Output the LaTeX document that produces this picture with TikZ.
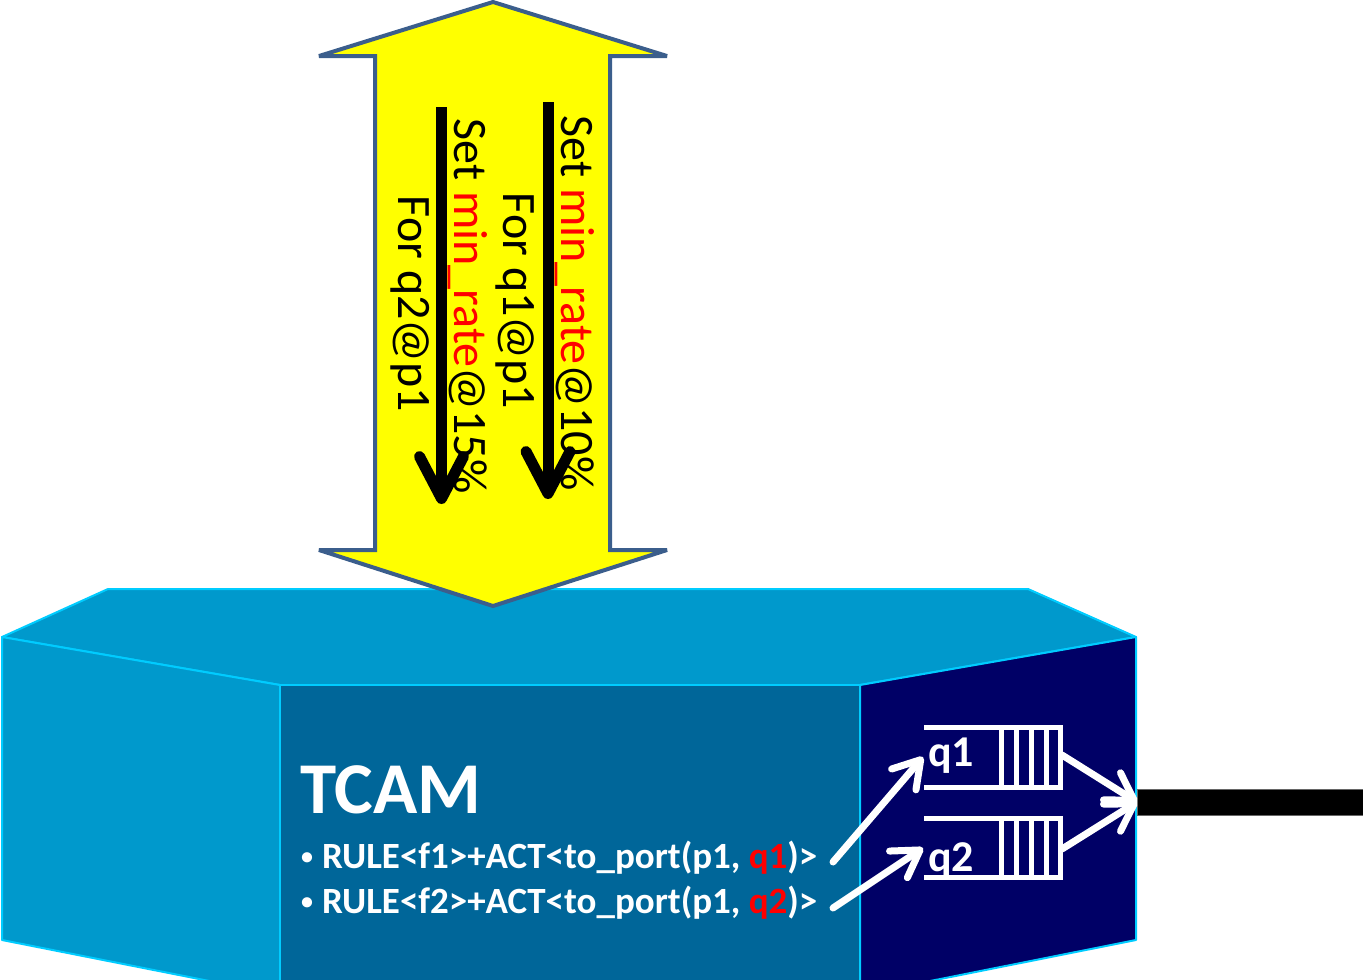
\documentclass[tikz,border=0pt]{standalone}
\usepackage{fontspec}
\setmainfont{Carlito}
\usetikzlibrary{arrows.meta}
\definecolor{facelight}{HTML}{0099CC}
\definecolor{facefront}{HTML}{006699}
\definecolor{facedark}{HTML}{000066}
\definecolor{rim}{HTML}{00CCFF}
\definecolor{bandedge}{HTML}{3B5E8C}
\definecolor{bandfill}{HTML}{FFFF00}
\definecolor{hot}{HTML}{FF0000}
\newcommand{\smallbullet}{\raisebox{4pt}{\fontsize{24}{24}\selectfont\textbullet}}
\tikzset{
  face/.style={draw=rim, line width=2pt, line join=round},
  band/.style={draw=bandedge, fill=bandfill, line width=4pt, line join=miter, miter limit=2},
  cmdarrow/.style={line width=11pt, -{Straight Barb[length=42pt,width=44pt,round]}},
  flowarrow/.style={draw=white, line width=7pt, line cap=round, -{Straight Barb[length=26pt,width=32pt,round]}},
  queueline/.style={draw=white, line width=5pt},
  vlabel/.style={rotate=-90, anchor=base, inner sep=0pt, font=\fontsize{48}{56}\selectfont},
  rulelabel/.style={anchor=base west, inner sep=0pt, text=white, font=\fontsize{37}{42}\selectfont\bfseries},
  qlabel/.style={anchor=base west, inner sep=0pt, text=white, font=\fontsize{44}{50}\selectfont\bfseries},
  portbar/.style={fill=black, draw=black!60, line width=0.8pt, minimum width=226pt, minimum height=26pt, inner sep=0pt, anchor=west},
}
\begin{document}
\begin{tikzpicture}[x=1pt, y=-1pt]
\useasboundingbox (0,0) rectangle (1363,980);
\clip (0,0) rectangle (1363,980);

% switch box: top, left, front and right faces
\path[face, fill=facelight] (108,589) -- (1028,589) -- (1136,637) -- (860,685) -- (280,685) -- (2,637) -- cycle;
\path[face, fill=facelight] (2,637) -- (280,685) -- (280,995) -- (2,940) -- cycle;
\path[face, fill=facefront] (280,685) -- (860,685) -- (860,995) -- (280,995) -- cycle;
\path[face, fill=facedark] (860,685) -- (1136,637) -- (1136,940) -- (860,995) -- cycle;

% control channel: vertical double arrow
\path[band] (493,2) -- (667,56) -- (610,56) -- (610,550) -- (667,550) -- (493,606)
  -- (319,550) -- (375,550) -- (375,56) -- (319,56) -- cycle;

% configuration commands
\coordinate (c1s) at (548,102);
\coordinate (c1e) at (548,499);
\coordinate (c2s) at (441.5,107);
\coordinate (c2e) at (441.5,504);
\draw[cmdarrow] (c1s) -- (c1e);
\draw[cmdarrow] (c2s) -- (c2e);
\node[vlabel] (setq1) at (561,303) {Set \textcolor{hot}{min\_rate}@10\%};
\node[vlabel] (forq1) at (503,301) {For q1@p1};
\node[vlabel] (setq2) at (454,306) {Set \textcolor{hot}{min\_rate}@15\%};
\node[vlabel] (forq2) at (398,304) {For q2@p1};

% TCAM rules on the front face
\node[anchor=base west, inner sep=0pt, text=white, font=\fontsize{73}{80}\selectfont\bfseries] (tcam) at (300,813) {TCAM};
\node[rulelabel] (rule1) at (301,868) {\smallbullet\hspace{9pt}RULE<f1>+ACT<to\_port(p1, \textcolor{hot}{q1})>};
\node[rulelabel] (rule2) at (301,913) {\smallbullet\hspace{9pt}RULE<f2>+ACT<to\_port(p1, \textcolor{hot}{q2})>};

% output queues
\draw[queueline] (924,727) -- (1060,727) -- (1060,787) -- (924,787);
\foreach \x in {1001,1016,1031,1046} \draw[queueline] (\x,727) -- (\x,787);
\draw[queueline] (924,818) -- (1060,818) -- (1060,877) -- (924,877);
\foreach \x in {1001,1016,1031,1046} \draw[queueline] (\x,818) -- (\x,877);
\node[qlabel] (q1) at (928,766) {q1};
\node[qlabel] (q2) at (928,871) {q2};

% output port
\node[portbar] (port) at (1137,802) {};

% forwarding paths
\coordinate (r1) at (833,862);
\coordinate (r2) at (833,908);
\coordinate (q1in) at (923,757);
\coordinate (q2in) at (923,848);
\coordinate (q1out) at (1062,755);
\coordinate (q2out) at (1062,849);
\draw[flowarrow] (r1) -- (q1in);
\draw[flowarrow] (r2) -- (q2in);
\draw[flowarrow] (q1out) -- (port.west);
\draw[flowarrow] (q2out) -- (port.west);
\end{tikzpicture}
\end{document}
